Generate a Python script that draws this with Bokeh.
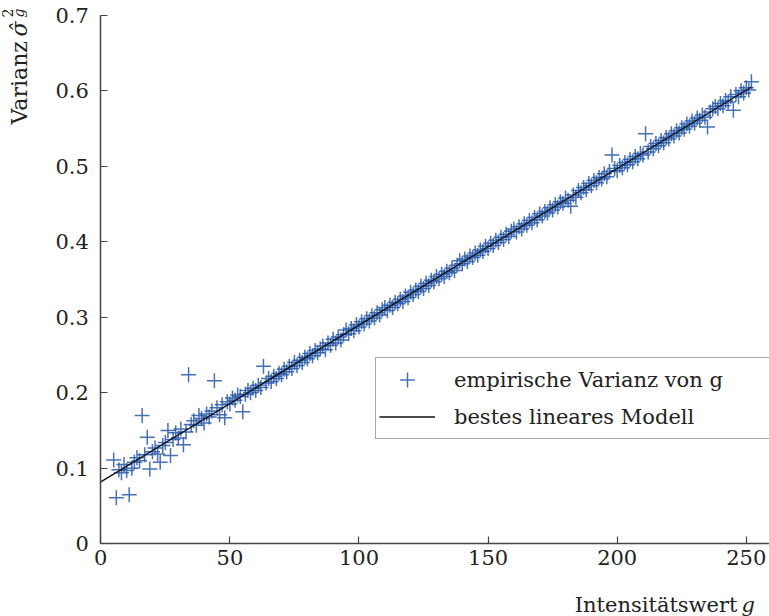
import math
from bokeh.plotting import figure
from bokeh.models import Range1d, FixedTicker, Label, Legend, LegendItem
from bokeh.embed import file_html
from bokeh.resources import INLINE

# ---- data ----
g_values = list(range(5, 253))
var_values = [
    0.111, 0.061, 0.098, 0.094, 0.105, 0.097, 0.065, 0.100, 0.108, 0.114, 0.110,
    0.170, 0.118, 0.141, 0.099, 0.122, 0.127, 0.119, 0.108, 0.130, 0.134,
    0.150, 0.117, 0.138, 0.147, 0.140, 0.152, 0.131, 0.148, 0.224, 0.158,
    0.163, 0.157, 0.170, 0.166, 0.160, 0.172, 0.168, 0.176, 0.216, 0.180,
    0.171, 0.184, 0.167, 0.188, 0.185, 0.193, 0.190, 0.197, 0.195, 0.175,
    0.198, 0.203, 0.200, 0.206, 0.203, 0.210, 0.207, 0.235, 0.213, 0.219,
    0.215, 0.222, 0.219, 0.226, 0.224, 0.231, 0.228, 0.235, 0.232, 0.240,
    0.236, 0.243, 0.240, 0.247, 0.245, 0.252, 0.249, 0.256, 0.253, 0.258,
    0.262, 0.257, 0.266, 0.263, 0.271, 0.266, 0.274, 0.270, 0.277, 0.283,
    0.278, 0.285, 0.282, 0.290, 0.287, 0.294, 0.291, 0.298, 0.295, 0.302,
    0.299, 0.306, 0.303, 0.310, 0.313, 0.309, 0.316, 0.313, 0.320, 0.318,
    0.324, 0.321, 0.328, 0.326, 0.333, 0.330, 0.336, 0.334, 0.341, 0.338,
    0.345, 0.342, 0.349, 0.347, 0.354, 0.351, 0.357, 0.354, 0.361, 0.359,
    0.365, 0.362, 0.369, 0.375, 0.371, 0.377, 0.374, 0.381, 0.379, 0.385,
    0.382, 0.389, 0.387, 0.394, 0.391, 0.398, 0.395, 0.402, 0.399, 0.406,
    0.403, 0.410, 0.407, 0.414, 0.417, 0.413, 0.420, 0.417, 0.424, 0.422,
    0.428, 0.425, 0.432, 0.429, 0.437, 0.434, 0.440, 0.438, 0.445, 0.442,
    0.449, 0.446, 0.453, 0.451, 0.458, 0.455, 0.447, 0.462, 0.459, 0.468,
    0.465, 0.472, 0.469, 0.477, 0.474, 0.481, 0.478, 0.485, 0.483, 0.490,
    0.486, 0.493, 0.515, 0.497, 0.494, 0.501, 0.498, 0.505, 0.502, 0.509,
    0.506, 0.513, 0.510, 0.517, 0.515, 0.543, 0.519, 0.526, 0.523, 0.530,
    0.527, 0.534, 0.531, 0.538, 0.536, 0.543, 0.540, 0.547, 0.544, 0.551,
    0.549, 0.556, 0.553, 0.560, 0.557, 0.564, 0.561, 0.568, 0.565, 0.552,
    0.572, 0.576, 0.579, 0.576, 0.583, 0.580, 0.587, 0.585, 0.592, 0.574,
    0.595, 0.592, 0.600, 0.597, 0.604, 0.601, 0.612,
]
model_g = [0, 252]
model_var = [0.082, 0.605]

x_ticks = [0, 50, 100, 150, 200, 250]
y_ticks = [0, 0.1, 0.2, 0.3, 0.4, 0.5, 0.6, 0.7]

FONT = "DejaVu Serif"
TXT = "#222222"
AX = "#444444"
BLUE = "#2658aa"

W, H = 769, 616
p = figure(width=W, height=H, output_backend="svg", toolbar_location=None,
           x_range=Range1d(-38.85, 259.0), y_range=Range1d(-0.0963, 0.7195),
           min_border_left=0, min_border_right=0, min_border_top=0,
           min_border_bottom=0)
p.outline_line_color = None
p.grid.visible = False
p.background_fill_color = "white"
p.border_fill_color = "white"

pts = p.scatter(g_values, var_values, marker="cross", size=15,
                line_color=BLUE, line_width=1.5, line_alpha=0.85)
ln = p.line(model_g, model_var, line_color="#111111", line_width=1.3)

for ax in (p.xaxis[0], p.yaxis[0]):
    ax.axis_line_color = AX
    ax.axis_line_width = 1.5
    ax.major_tick_line_color = AX
    ax.major_tick_line_width = 1.2
    ax.major_tick_in = 7
    ax.major_tick_out = 0
    ax.minor_tick_line_color = None
    ax.major_label_text_font = FONT
    ax.major_label_text_font_size = "21px"
    ax.major_label_text_color = TXT
    ax.fixed_location = 0

p.xaxis[0].ticker = FixedTicker(ticks=x_ticks)
p.yaxis[0].ticker = FixedTicker(ticks=y_ticks)
p.xaxis[0].bounds = (0, 259.0)
p.yaxis[0].bounds = (0, 0.7)
p.xaxis[0].major_label_standoff = 6
p.yaxis[0].major_label_standoff = 12
p.yaxis[0].major_label_overrides = {0: "0"}

legend = Legend(items=[LegendItem(label="empirische Varianz von g", renderers=[pts]),
                       LegendItem(label="bestes lineares Modell", renderers=[ln])],
                location=(375, 177))
legend.label_text_font = FONT
legend.label_text_font_size = "21px"
legend.label_text_color = TXT
legend.border_line_color = "#555555"
legend.border_line_width = 1
legend.background_fill_alpha = 1
legend.padding = 3
legend.margin = 0
legend.spacing = 0
legend.glyph_width = 56
legend.glyph_height = 37
legend.label_height = 37
legend.label_width = 340
legend.label_standoff = 19
p.add_layout(legend)

# axis titles as labels (screen coordinates from bottom-left of the frame)
p.add_layout(Label(x=737, y=12, x_units="screen", y_units="screen",
                   text="Intensitätswert", text_align="right",
                   text_baseline="alphabetic", text_font=FONT,
                   text_font_size="21px", text_color=TXT))
p.add_layout(Label(x=741, y=12, x_units="screen", y_units="screen",
                   text="g", text_align="left", text_baseline="alphabetic",
                   text_font=FONT, text_font_style="italic",
                   text_font_size="21px", text_color=TXT))

p.add_layout(Label(x=19, y=492, x_units="screen", y_units="screen",
                   text="Varianz", angle=math.pi / 2, text_align="left",
                   text_baseline="alphabetic", text_font=FONT,
                   text_font_size="22px", text_color=TXT))
p.add_layout(Label(x=19, y=580, x_units="screen", y_units="screen",
                   text="σ̂", angle=math.pi / 2, text_align="left",
                   text_baseline="alphabetic", text_font=FONT,
                   text_font_style="italic",
                   text_font_size="22px", text_color=TXT))
p.add_layout(Label(x=7, y=599, x_units="screen", y_units="screen",
                   text="2", angle=math.pi / 2, text_align="left",
                   text_baseline="alphabetic", text_font=FONT,
                   text_font_size="14px", text_color=TXT))
p.add_layout(Label(x=18, y=599, x_units="screen", y_units="screen",
                   text="g", angle=math.pi / 2, text_align="left",
                   text_baseline="alphabetic", text_font=FONT,
                   text_font_style="italic",
                   text_font_size="14px", text_color=TXT))

open("out.html", "w").write(file_html(p, INLINE))
